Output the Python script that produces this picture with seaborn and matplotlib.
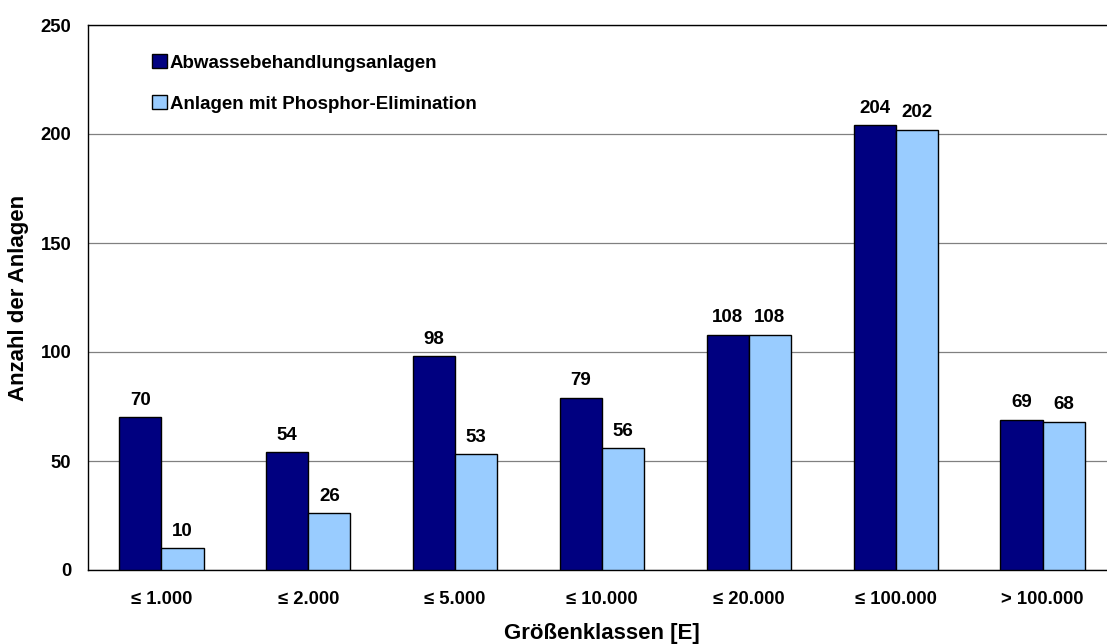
import matplotlib
matplotlib.use("Agg")
import matplotlib.pyplot as plt
import seaborn as sns
import pandas as pd
from matplotlib.ticker import FixedLocator

categories = ["≤ 1.000", "≤ 2.000", "≤ 5.000", "≤ 10.000", "≤ 20.000", "≤ 100.000", "> 100.000"]
series_names = ["Abwassebehandlungsanlagen", "Anlagen mit Phosphor-Elimination"]
abwasser = [70, 54, 98, 79, 108, 204, 69]
phosphor = [10, 26, 53, 56, 108, 202, 68]
colors = ["#000080", "#99CCFF"]

rows = []
for c, a, p in zip(categories, abwasser, phosphor):
    rows.append({"Kategorie": c, "Serie": series_names[0], "Wert": a})
    rows.append({"Kategorie": c, "Serie": series_names[1], "Wert": p})
df = pd.DataFrame(rows)

sns.set_style("white")
plt.rcParams['font.family'] = ['Liberation Sans', 'DejaVu Sans']
plt.rcParams['font.weight'] = 'bold'
plt.rcParams['text.color'] = 'black'
plt.rcParams['axes.labelcolor'] = 'black'
plt.rcParams['xtick.color'] = 'black'
plt.rcParams['ytick.color'] = 'black'

fig = plt.figure(figsize=(11.07, 6.44), dpi=100)
ax = fig.add_axes([88/1107, 74/644, 1028/1107, 545/644])

sns.barplot(data=df, x="Kategorie", y="Wert", hue="Serie", order=categories,
            hue_order=series_names, palette=colors, width=0.573, gap=0,
            edgecolor="black", linewidth=1.0, ax=ax, saturation=1, zorder=3)

ax.set_ylim(0, 250)
ax.set_xlim(-0.5, len(categories) - 0.5)
ax.set_yticks([0, 50, 100, 150, 200, 250])
ax.yaxis.grid(True, color="#808080", linewidth=0.9, zorder=0)
ax.set_axisbelow(True)

for cont in ax.containers:
    for bar in cont:
        h = bar.get_height()
        ax.annotate(f"{int(h)}", (bar.get_x() + bar.get_width() / 2, h),
                    xytext=(0, 6), textcoords="offset points",
                    ha="center", va="bottom", fontsize=13.5, fontweight="bold", color="black")

ax.tick_params(axis="x", which="major", length=0, pad=15, labelsize=13.3, labelcolor="black")
ax.xaxis.set_minor_locator(FixedLocator([i - 0.5 for i in range(len(categories) + 1)]))
ax.tick_params(axis="x", which="minor", length=5, width=1, color="#808080", direction="out")
ax.tick_params(axis="y", length=5, width=1, color="black", direction="out", labelsize=13.3,
               pad=7, labelcolor="black")
for t in ax.get_xticklabels() + ax.get_yticklabels():
    t.set_fontweight("bold")

for s in ax.spines.values():
    s.set_color("black")
    s.set_linewidth(1.0)

ax.set_xlabel("Größenklassen [E]", fontsize=16, fontweight="bold", labelpad=11, color="black")
ax.set_ylabel("Anzahl der Anlagen", fontsize=16, fontweight="bold", labelpad=8, color="black")

leg = ax.legend(loc="upper left", bbox_to_anchor=(0.046, 0.978), frameon=False,
                fontsize=13.5, handlelength=0.8, handleheight=0.8,
                handletextpad=0.15, labelspacing=1.25)
for t in leg.get_texts():
    t.set_fontweight("bold")
    t.set_color("black")
for h in leg.legend_handles:
    h.set_edgecolor("black")
    h.set_linewidth(1.0)

fig.savefig("out.png", dpi=100)
